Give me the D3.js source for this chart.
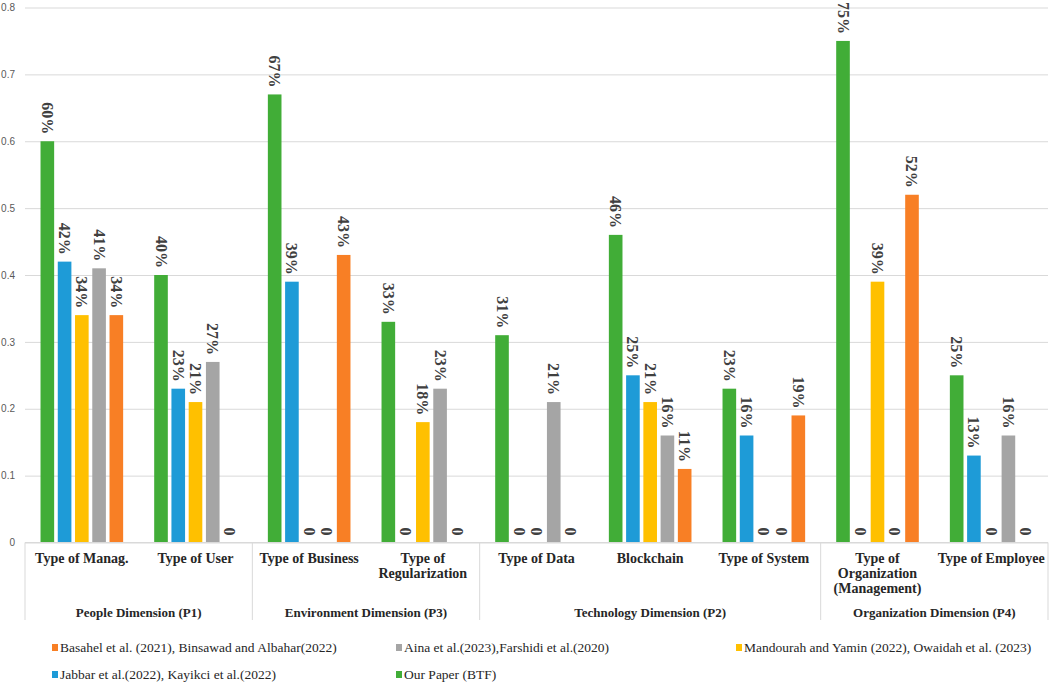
<!DOCTYPE html>
<html>
<head>
<meta charset="utf-8">
<script src="https://cdn.jsdelivr.net/npm/d3@7"></script>
<style>
  html, body { margin: 0; padding: 0; background: #fff; }
  .cat-label { font-family: "Liberation Serif", "Times New Roman", serif; font-weight: bold; font-size: 14px; fill: #262626; }
  .group-label { font-family: "Liberation Serif", "Times New Roman", serif; font-weight: bold; font-size: 13px; fill: #262626; }
  .bar-label { font-family: "Liberation Serif", "Times New Roman", serif; font-weight: bold; font-size: 16px; fill: #404040; }
  .legend-label { font-family: "Liberation Serif", "Times New Roman", serif; font-size: 13.5px; fill: #262626; }
  .y-axis text { font-family: "Liberation Sans", Arial, sans-serif; font-size: 10px; fill: #595959; }
</style>
</head>
<body>
<div id="chart"></div>
<script>
// categories (inner level) and their wrapped lines
const categories = ["Type of Manag.", "Type of User", "Type of Business", "Type of Regularization",
  "Type of Data", "Blockchain", "Type of System", "Type of Organization (Management)", "Type of Employee"];
const categoryLines = [["Type of Manag."], ["Type of User"], ["Type of Business"], ["Type of", "Regularization"],
  ["Type of Data"], ["Blockchain"], ["Type of System"], ["Type of", "Organization", "(Management)"], ["Type of Employee"]];

// outer level
const groupNames = ["People Dimension (P1)", "Environment Dimension (P3)", "Technology Dimension (P2)", "Organization Dimension (P4)"];
const groupSizes = [2, 2, 3, 2];

// series values (bar order inside each category)
const ourPaper  = [0.60, 0.40, 0.67, 0.33, 0.31, 0.46, 0.23, 0.75, 0.25];
const jabbar    = [0.42, 0.23, 0.39, 0,    0,    0.25, 0.16, 0,    0.13];
const mandourah = [0.34, 0.21, 0,    0.18, 0,    0.21, 0,    0.39, 0];
const aina      = [0.41, 0.27, 0,    0.23, 0.21, 0.16, 0,    0,    0.16];
const basahel   = [0.34, 0,    0.43, 0,    0,    0.11, 0.19, 0.52, 0];

const seriesNames = ["Our Paper (BTF)", "Jabbar et al.(2022), Kayikci et al.(2022)",
  "Mandourah and Yamin (2022), Owaidah et al. (2023)", "Aina et al.(2023),Farshidi et al.(2020)",
  "Basahel et al. (2021), Binsawad and Albahar(2022)"];
const seriesValues = [ourPaper, jabbar, mandourah, aina, basahel];
const seriesColors = ["#41AD37", "#1E9BD7", "#FFC000", "#A5A5A5", "#F87F25"];

// legend order as in the picture (rows of three)
const legendOrder = [4, 3, 2, 1, 0];

const yTicks = [0, 0.1, 0.2, 0.3, 0.4, 0.5, 0.6, 0.7, 0.8];

const W = 1052, H = 684;
const plotLeft = 25, plotRight = 1048, plotTop = 7.5, plotBase = 542.5;

const svg = d3.select("#chart").append("svg")
  .attr("width", W)
  .attr("height", H);

svg.append("rect").attr("width", W).attr("height", H).attr("fill", "#fff");

const x0 = d3.scaleBand()
  .domain(categories)
  .range([plotLeft, plotRight])
  .padding(0);

const x1 = d3.scaleBand()
  .domain(d3.range(seriesNames.length))
  .range([0, x0.bandwidth()])
  .paddingInner(0.21)
  .paddingOuter(0.9);

const y = d3.scaleLinear()
  .domain([0, 0.8])
  .range([plotBase, plotTop]);

// y axis + gridlines
const yAxis = svg.append("g")
  .attr("class", "y-axis")
  .attr("transform", `translate(${plotLeft},0)`)
  .call(d3.axisLeft(y)
    .tickValues(yTicks)
    .tickSize(-(plotRight - plotLeft))
    .tickPadding(10)
    .tickFormat(d => d === 0 ? "0" : d3.format(".1f")(d)));
yAxis.select(".domain").remove();
yAxis.selectAll(".tick line").attr("stroke", "#d9d9d9").attr("stroke-width", 1);

// bars
categories.forEach((cat, ci) => {
  const g = svg.append("g").attr("transform", `translate(${x0(cat)},0)`);
  seriesValues.forEach((vals, si) => {
    const v = vals[ci];
    const bx = x1(si) + x1.bandwidth() / 2;
    if (v > 0) {
      g.append("rect")
        .attr("x", x1(si))
        .attr("y", y(v))
        .attr("width", x1.bandwidth())
        .attr("height", y(0) - y(v))
        .attr("fill", seriesColors[si]);
    }
    g.append("text")
      .attr("class", "bar-label")
      .attr("transform", `translate(${bx},${y(v) - 7}) rotate(90)`)
      .attr("text-anchor", "end")
      .attr("dominant-baseline", "central")
      .text(v === 0 ? "0" : Math.round(v * 100) + "%");
  });
});

// category axis box
const axisBottom = 620;
svg.append("line")
  .attr("x1", plotLeft).attr("x2", plotRight)
  .attr("y1", plotBase).attr("y2", plotBase)
  .attr("stroke", "#d9d9d9");

let idx = 0;
const sepIdx = [0];
groupSizes.forEach(n => { idx += n; sepIdx.push(idx); });

sepIdx.forEach(i => {
  const sx = i < categories.length ? x0(categories[i]) : plotRight;
  svg.append("line")
    .attr("x1", sx).attr("x2", sx)
    .attr("y1", plotBase).attr("y2", axisBottom)
    .attr("stroke", "#d9d9d9");
});

// category labels
categories.forEach((cat, ci) => {
  const cx = x0(cat) + x0.bandwidth() / 2;
  const t = svg.append("text")
    .attr("class", "cat-label")
    .attr("text-anchor", "middle")
    .attr("x", cx)
    .attr("y", 563);
  categoryLines[ci].forEach((line, li) => {
    t.append("tspan")
      .attr("x", cx)
      .attr("dy", li === 0 ? 0 : 15)
      .text(line);
  });
});

// group labels
groupNames.forEach((name, gi) => {
  const a = x0(categories[sepIdx[gi]]);
  const b = sepIdx[gi + 1] < categories.length ? x0(categories[sepIdx[gi + 1]]) : plotRight;
  svg.append("text")
    .attr("class", "group-label")
    .attr("text-anchor", "middle")
    .attr("x", (a + b) / 2)
    .attr("y", 617)
    .text(name);
});

// legend
const legendX = [52, 396, 736];
const legendY = [648, 675];
legendOrder.forEach((si, k) => {
  const lx = legendX[k % 3], ly = legendY[Math.floor(k / 3)];
  svg.append("rect")
    .attr("x", lx).attr("y", ly - 4)
    .attr("width", 6).attr("height", 7)
    .attr("fill", seriesColors[si]);
  svg.append("text")
    .attr("class", "legend-label")
    .attr("x", lx + 8)
    .attr("y", ly + 4)
    .text(seriesNames[si]);
});
</script>
</body>
</html>
